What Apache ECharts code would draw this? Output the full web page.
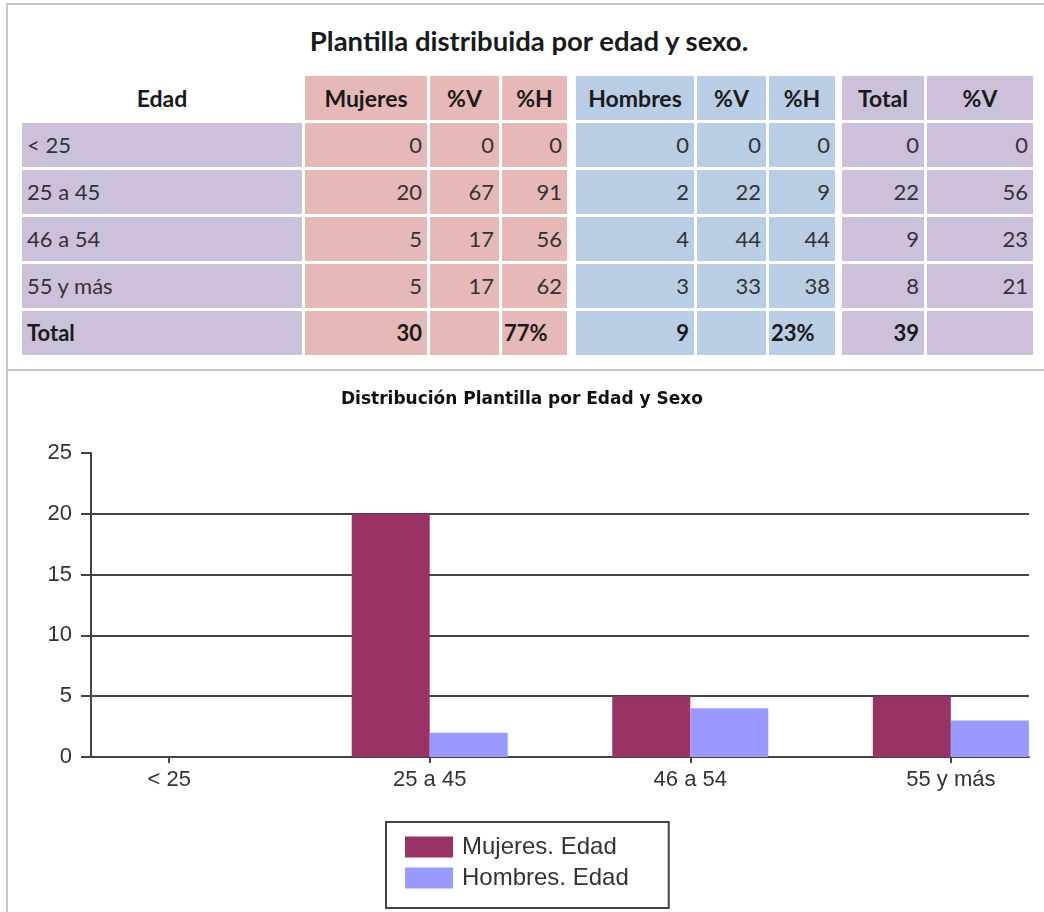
<!DOCTYPE html>
<html>
<head>
<meta charset="UTF-8">
<title>Plantilla distribuida por edad y sexo</title>
<script src="https://cdn.jsdelivr.net/npm/echarts@6/dist/echarts.min.js"></script>
<style>
  * { margin: 0; padding: 0; }
  body { width: 1044px; height: 912px; overflow: hidden; background: #fff; position: relative; }
  #box1 { position: absolute; left: 6px; top: 3px; width: 1100px; height: 364px; border: 2px solid #c8c8c8; }
  #box2 { position: absolute; left: 6px; top: 369px; width: 1100px; height: 600px; border-left: 2px solid #c8c8c8; }
  #title {
    position: absolute; left: 0; top: 24px; width: 1058px; text-align: center;
    font: bold 27.5px Lato, sans-serif; color: #1a1a1a;
  }
  #tbl {
    position: absolute; left: 19px; top: 72.5px;
    border-collapse: separate; border-spacing: 3px 3.5px;
    font-family: Lato, sans-serif; font-size: 22px; color: #333;
  }
  #tbl td, #tbl th { height: 44px; padding: 0 5px; box-sizing: border-box; white-space: nowrap; }
  #tbl th { font-weight: bold; font-size: 23px; color: #1a1a1a; text-align: center; }
  #tbl td { text-align: right; }
  #tbl td.lab { text-align: left; }
  #tbl td.txt { text-align: left; padding-left: 2px; }
  #tbl tr.tot td { font-weight: bold; color: #1a1a1a; }
  .pu { background: #ccc0da; }
  .pk { background: #e6b9b8; }
  .bl { background: #b9cde5; }
  .sp { padding: 0 !important; background: transparent; }
  #main { position: absolute; left: 0; top: 370px; width: 1044px; height: 542px; }
</style>
</head>
<body>
<div id="box1"></div>
<div id="box2"></div>
<div id="title">Plantilla distribuida por edad y sexo.</div>
<table id="tbl"></table>
<div id="main"></div>

<script type="text/javascript">
  // datos de la tabla
  var edades = ['< 25', '25 a 45', '46 a 54', '55 y más'];
  var mujeres = [0, 20, 5, 5];
  var mujeresV = [0, 67, 17, 17];
  var mujeresH = [0, 91, 56, 62];
  var hombres = [0, 2, 4, 3];
  var hombresV = [0, 22, 44, 33];
  var hombresH = [0, 9, 44, 38];
  var totales = [0, 22, 9, 8];
  var totalesV = [0, 56, 23, 21];
  var cabeceras = ['Edad', 'Mujeres', '%V', '%H', 'Hombres', '%V', '%H', 'Total', '%V'];
  var filaTotal = ['Total', '30', '', '77%', '9', '', '23%', '39', ''];

  // anchos de columna y colores (null = separador)
  var anchos = [280, 122, 69, 65, null, 118, 69, 66, null, 82, 106];
  var clases = ['pu', 'pk', 'pk', 'pk', 'sp3', 'bl', 'bl', 'bl', 'sp1', 'pu', 'pu'];

  function fila(valores, tag, extra, esTotal) {
    var html = '<tr' + (extra ? ' class="' + extra + '"' : '') + '>';
    var k = 0;
    for (var c = 0; c < anchos.length; c++) {
      if (anchos[c] === null) {
        var w = clases[c] === 'sp3' ? 3 : 1;
        html += '<td class="sp" style="width:' + w + 'px;min-width:' + w + 'px"></td>';
        continue;
      }
      var cls = clases[c];
      if (tag === 'th' && k === 0) cls = '';
      if (tag === 'td' && k === 0) cls += ' lab';
      if (esTotal && (k === 3 || k === 6)) cls += ' txt';
      html += '<' + tag + ' class="' + cls + '" style="width:' + anchos[c] + 'px">' + valores[k] + '</' + tag + '>';
      k++;
    }
    return html + '</tr>';
  }

  var html = fila(cabeceras, 'th');
  for (var i = 0; i < edades.length; i++) {
    html += fila([edades[i], mujeres[i], mujeresV[i], mujeresH[i], hombres[i], hombresV[i], hombresH[i], totales[i], totalesV[i]], 'td');
  }
  html += fila(filaTotal, 'td', 'tot', true);
  document.getElementById('tbl').innerHTML = html;

  // grafico
  var serieMujeres = 'Mujeres. Edad';
  var serieHombres = 'Hombres. Edad';
  var posiciones = [0, 1, 2, 3];

  var myChart = echarts.init(document.getElementById('main'));
  myChart.setOption({
    animation: false,
    title: {
      text: 'Distribución Plantilla por Edad y Sexo',
      left: 'center',
      top: 16,
      textStyle: { fontFamily: 'DejaVu Sans', fontWeight: 'bold', fontSize: 17, color: '#111' }
    },
    legend: {
      orient: 'vertical',
      left: 386,
      top: 452,
      itemWidth: 48,
      itemHeight: 21,
      itemGap: 5,
      padding: [12, 40, 17, 19],
      borderColor: '#444',
      borderWidth: 2,
      icon: 'rect',
      textStyle: { fontFamily: 'Liberation Sans', fontSize: 24, color: '#333', lineHeight: 26, padding: [0, 0, 0, 4] },
      data: [serieMujeres, serieHombres]
    },
    grid: { left: 91, right: 15, top: 83, bottom: 155 },
    xAxis: {
      type: 'value',
      min: -0.3,
      max: 3.3,
      axisLine: { show: true, onZero: false, lineStyle: { color: '#444', width: 2 } },
      axisTick: { show: true, customValues: posiciones, length: 6, lineStyle: { color: '#444', width: 2 } },
      axisLabel: {
        customValues: posiciones,
        margin: 12,
        fontFamily: 'Liberation Sans', fontSize: 22, color: '#333',
        formatter: function (v) { return edades[Math.round(v)]; }
      },
      splitLine: { show: false }
    },
    yAxis: {
      type: 'value',
      min: 0,
      max: 25,
      interval: 5,
      axisLine: { show: true, onZero: false, lineStyle: { color: '#444', width: 2 } },
      axisTick: { show: true, length: 10, lineStyle: { color: '#444', width: 2 } },
      axisLabel: { margin: 19, fontFamily: 'Liberation Sans', fontSize: 22, color: '#333' },
      splitLine: { show: true, showMaxLine: false, lineStyle: { color: '#444', width: 2 } }
    },
    series: [
      {
        name: serieMujeres,
        type: 'bar',
        barWidth: 78,
        barGap: '0%',
        itemStyle: { color: '#993366' },
        data: posiciones.map(function (p, i) { return [p, mujeres[i]]; })
      },
      {
        name: serieHombres,
        type: 'bar',
        barWidth: 78,
        barGap: '0%',
        itemStyle: { color: '#9999ff' },
        data: posiciones.map(function (p, i) { return [p, hombres[i]]; })
      }
    ]
  });
</script>
</body>
</html>
